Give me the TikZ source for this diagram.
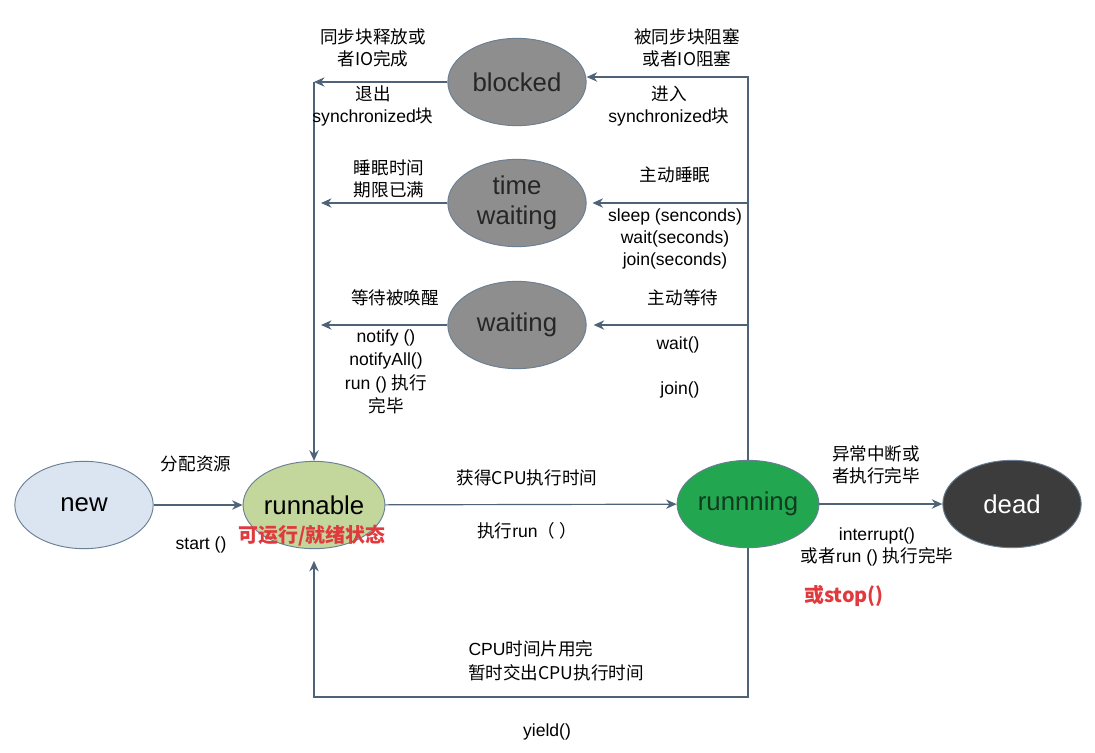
\documentclass[tikz,border=0pt]{standalone}
\usepackage{fontspec}
\setmainfont{Liberation Sans}
\newfontfamily\zhfont{Noto Sans CJK SC}
\newcommand{\zhtxt}[1]{{\zhfont #1}}
\usetikzlibrary{shapes.geometric,arrows.meta,positioning}
\definecolor{linec}{HTML}{4F6378}
\definecolor{edgec}{HTML}{6A7F94}
\definecolor{newc}{HTML}{DBE5F1}
\definecolor{runnablec}{HTML}{C3D69B}
\definecolor{runningc}{HTML}{22A650}
\definecolor{runtextc}{HTML}{123A1E}
\definecolor{deadc}{HTML}{3C3C3C}
\definecolor{grayc}{HTML}{8E8E8E}
\definecolor{notered}{HTML}{E0393E}

\begin{document}
\begin{tikzpicture}[
  x=0.03cm, y=-0.03cm,
  state/.style={ellipse, draw=edgec, line width=0.8pt, minimum width=4.15cm, minimum height=2.62cm, inner sep=0pt, font=\fontsize{22}{26}\selectfont},
  lbl/.style={font=\fontsize{15}{18.5}\selectfont, align=center, inner sep=0pt},
  note/.style={font=\zhfont\bfseries\fontsize{17}{20}\selectfont, text=notered, inner sep=0pt},
  flow/.style={draw=linec, line width=1pt, -{Stealth[length=9pt,width=8pt]}}
]
\useasboundingbox (0,0) rectangle (1095,752);

\node[state, fill=newc] (new) at (84,505) {new};
\node[state, fill=runnablec] (runnable) at (314,505) {runnable};
\node[state, fill=runningc, text=runtextc] (running) at (748,504) {runnning};
\node[state, fill=deadc, text=white] (dead) at (1012,504) {dead};
\node[state, fill=grayc, text=black!85] (blocked) at (517,82) {blocked};
\node[state, fill=grayc, text=black!85, align=center] (timewait) at (517,203) {time\\waiting};
\node[state, fill=grayc, text=black!85] (waiting) at (517,325) {waiting};

\coordinate (rtop) at (748,77);
\coordinate (lbot) at (314,697);

\draw[flow] (new) -- (runnable);
\draw[flow] (runnable) -- (running);
\draw[flow] (running) -- (dead);
\draw[flow] (running.north) -- (rtop) -- (rtop -| blocked.east);
\draw[flow, shorten >=5pt] (running.north |- timewait) -- (timewait.east);
\draw[flow, shorten >=6pt] (running.north |- waiting) -- (waiting.east);
\draw[flow] (blocked.west) -- (blocked.west -| runnable.north);
\draw[flow] (blocked.west -| runnable.north) -- (runnable.north);
\draw[flow, shorten >=6pt] (timewait.west) -- (timewait.west -| runnable.north);
\draw[flow, shorten >=6pt] (waiting.west) -- (waiting.west -| runnable.north);
\draw[flow, shorten >=10pt] (running.south) |- (lbot) -- (runnable.south);

\node[lbl] (relblk) at (373,48) {\zhtxt{同步块释放或}\\\zhtxt{者IO完成}};
\node[lbl] (exitsync) at (373,106) {\zhtxt{退出}\\synchronized\zhtxt{块}};
\node[lbl] (blkin) at (687,48) {\zhtxt{被同步块阻塞}\\\zhtxt{或者IO阻塞}};
\node[lbl] (entersync) at (669,106) {\zhtxt{进入}\\synchronized\zhtxt{块}};
\node[lbl] (sleepover) at (389,179) {\zhtxt{睡眠时间}\\\zhtxt{期限已满}};
\node[lbl] (sleepin) at (675,175) {\zhtxt{主动睡眠}};
\node[lbl, font=\fontsize{15}{19}\selectfont] (sleepcalls) at (675,239) {sleep (senconds)\\wait(seconds)\\join(seconds)};
\node[lbl] (wakeup) at (395,298) {\zhtxt{等待被唤醒}};
\node[lbl, font=\fontsize{15}{20}\selectfont] (notifycalls) at (386,372) {notify ()\\notifyAll()\\run () \zhtxt{执行}\\\zhtxt{完毕}};
\node[lbl] (waitin) at (683,298) {\zhtxt{主动等待}};
\node[lbl] (waitcall) at (678,345) {wait()};
\node[lbl] (joincall) at (680,390) {join()};
\node[lbl] (alloc) at (196,464) {\zhtxt{分配资源}};
\node[lbl] (startcall) at (201,545) {start ()};
\node[note] (readynote) at (312,536) {可运行/就绪状态};
\node[lbl] (getcpu) at (527,478) {\zhtxt{获得CPU执行时间}};
\node[lbl] (runcall) at (527,531) {\zhtxt{执行}run\zhtxt{（ ）}};
\node[lbl] (abort) at (876,465) {\zhtxt{异常中断或}\\\zhtxt{者执行完毕}};
\node[lbl] (interrupt) at (877,547) {interrupt()\\\zhtxt{或者}run () \zhtxt{执行完毕}};
\node[note] (stopnote) at (844,596) {或stop()};
\node[lbl] (slice) at (531,649) {CPU\zhtxt{时间片用完}};
\node[lbl] (yieldcpu) at (556,673) {\zhtxt{暂时交出CPU执行时间}};
\node[lbl] (yieldcall) at (547,732) {yield()};
\end{tikzpicture}
\end{document}
